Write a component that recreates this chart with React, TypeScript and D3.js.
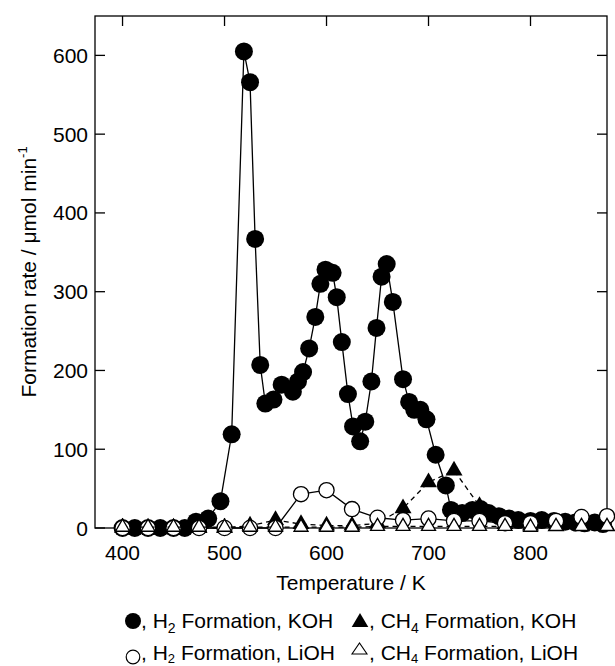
import React from 'react'
import * as d3 from 'd3'

// H2 formation over KOH (filled circles, solid line)
const h2KohTemp = [400, 412, 425, 437, 450, 461, 472, 484, 496, 507, 519, 525, 530, 535, 540, 548, 556, 567, 572, 577, 583, 589, 594, 599, 606, 610, 615, 621, 626, 633, 638, 644, 649, 654, 659, 665, 675, 681, 686, 692, 698, 707, 717, 722, 733, 743, 751, 759, 769, 779, 788, 800, 811, 823, 834, 844, 853, 863, 871]
const h2KohRate = [0, 0, 0, 0, 0, 0, 8, 12, 34, 119, 605, 566, 367, 207, 158, 163, 182, 173, 186, 198, 228, 268, 310, 328, 324, 293, 236, 170, 129, 110, 135, 186, 254, 319, 335, 287, 189, 160, 150, 150, 138, 93, 54, 23, 19, 23, 24, 19, 15, 12, 10, 9, 10, 9, 8, 7, 6, 7, 5]

// LiOH runs and CH4 over KOH share a 25 K grid
const gridTemp = [400, 425, 450, 475, 500, 525, 550, 575, 600, 625, 650, 675, 700, 725, 750, 775, 800, 825, 850, 875]
const ch4KohRate = [0, 0, 0, 0, 0, 3, 10, 5, 3, 3, 6, 25, 58, 73, 28, 5, 3, 2, 2, 2]
const h2LiRate = [0, 0, 0, 0, 0, 0, 0, 43, 48, 24, 13, 10, 12, 9, 9, 6, 6, 9, 14, 15]
const ch4LiRate = [1, 1, 1, 1, 1, 1, 1, 1, 1, 1, 2, 2, 2, 2, 2, 2, 1, 2, 2, 2]

const xTicks = [400, 500, 600, 700, 800]
const yTicks = [0, 100, 200, 300, 400, 500, 600]

const W = 615
const H = 666
const FONT = '"Liberation Sans", Arial, Helvetica, sans-serif'

const tri = (cx: number, cy: number, s: number) => {
  const h = s * Math.sqrt(3) / 2
  return `M${cx},${cy - (2 * h) / 3}L${cx + s / 2},${cy + h / 3}L${cx - s / 2},${cy + h / 3}Z`
}

export default function App() {
  const x = d3.scaleLinear().domain([373, 875]).range([95, 607])
  const y = d3.scaleLinear().domain([0, 650]).range([528, 16])
  const line = d3.line<[number, number]>().x(d => x(d[0])).y(d => y(d[1]))

  const h2Koh = h2KohTemp.map((t, i) => [t, h2KohRate[i]] as [number, number])
  const ch4Koh = gridTemp.map((t, i) => [t, ch4KohRate[i]] as [number, number])
  const h2Li = gridTemp.map((t, i) => [t, h2LiRate[i]] as [number, number])
  const ch4Li = gridTemp.map((t, i) => [t, ch4LiRate[i]] as [number, number])

  const [x0, x1] = x.range()
  const [yb, yt] = y.range()

  return (
    <svg width={W} height={H} style={{position: 'absolute', left: 0, top: 0}} fontFamily={FONT}>
      {/* frame */}
      <rect x={x0} y={yt} width={x1 - x0} height={yb - yt} fill="none" stroke="#000" strokeWidth={1.3} />
      {xTicks.map(t => (
        <g key={'xt' + t}>
          <line x1={x(t)} x2={x(t)} y1={yt} y2={yt + 10} stroke="#000" strokeWidth={1.3} />
          <line x1={x(t)} x2={x(t)} y1={yb} y2={yb - 10} stroke="#000" strokeWidth={1.3} />
          <text x={x(t)} y={560} textAnchor="middle" fontSize={21}>{t}</text>
        </g>
      ))}
      {yTicks.map(t => (
        <g key={'yt' + t}>
          <line x1={x0} x2={x0 + 10} y1={y(t)} y2={y(t)} stroke="#000" strokeWidth={1.3} />
          <line x1={x1} x2={x1 - 10} y1={y(t)} y2={y(t)} stroke="#000" strokeWidth={1.3} />
          <text x={88} y={y(t)} dy="0.36em" textAnchor="end" fontSize={21}>{t}</text>
        </g>
      ))}

      <text x={(x0 + x1) / 2} y={590} textAnchor="middle" fontSize={21}>Temperature / K</text>
      <text transform={`translate(36,${(yb + yt) / 2}) rotate(-90)`} textAnchor="middle" fontSize={21}>
        Formation rate / μmol min<tspan fontSize={13} dy={-9}>-1</tspan>
      </text>

      {/* series */}
      <path d={line(h2Koh) || ''} fill="none" stroke="#000" strokeWidth={1.3} />
      {h2Koh.map((d, i) => <circle key={'a' + i} cx={x(d[0])} cy={y(d[1])} r={9} fill="#000" />)}

      <path d={line(ch4Koh) || ''} fill="none" stroke="#000" strokeWidth={1.3} strokeDasharray="5,4" />
      {ch4Koh.map((d, i) => <path key={'b' + i} d={tri(x(d[0]), y(d[1]), 17)} fill="#000" />)}

      <path d={line(h2Li) || ''} fill="none" stroke="#000" strokeWidth={1.3} />
      {h2Li.map((d, i) => <circle key={'c' + i} cx={x(d[0])} cy={y(d[1])} r={7.6} fill="#fff" stroke="#000" strokeWidth={1.3} />)}

      <path d={line(ch4Li) || ''} fill="none" stroke="#000" strokeWidth={1.3} strokeDasharray="5,4" />
      {ch4Li.map((d, i) => <path key={'d' + i} d={tri(x(d[0]), y(d[1]), 14)} fill="#fff" stroke="#000" strokeWidth={1.3} />)}

      {/* legend */}
      <circle cx={133} cy={621} r={8} fill="#000" />
      <text x={141} y={628} fontSize={21}>, H<tspan fontSize={14} dy={5}>2</tspan><tspan dy={-5}> Formation, KOH</tspan></text>
      <path d="M351.7,627L368.3,627L360,613Z" fill="#000" />
      <text x={369} y={628} fontSize={21}>, CH<tspan fontSize={14} dy={5}>4</tspan><tspan dy={-5}> Formation, KOH</tspan></text>

      <circle cx={133} cy={657} r={6.8} fill="#fff" stroke="#000" strokeWidth={1.2} />
      <text x={141} y={660} fontSize={21}>, H<tspan fontSize={13} dy={3}>2</tspan><tspan dy={-3}> Formation, LiOH</tspan></text>
      <path d="M352,654L367,654L359.5,643Z" fill="#fff" stroke="#000" strokeWidth={1.1} />
      <text x={369} y={660} fontSize={21}>, CH<tspan fontSize={13} dy={3}>4</tspan><tspan dy={-3}> Formation, LiOH</tspan></text>
    </svg>
  )
}
